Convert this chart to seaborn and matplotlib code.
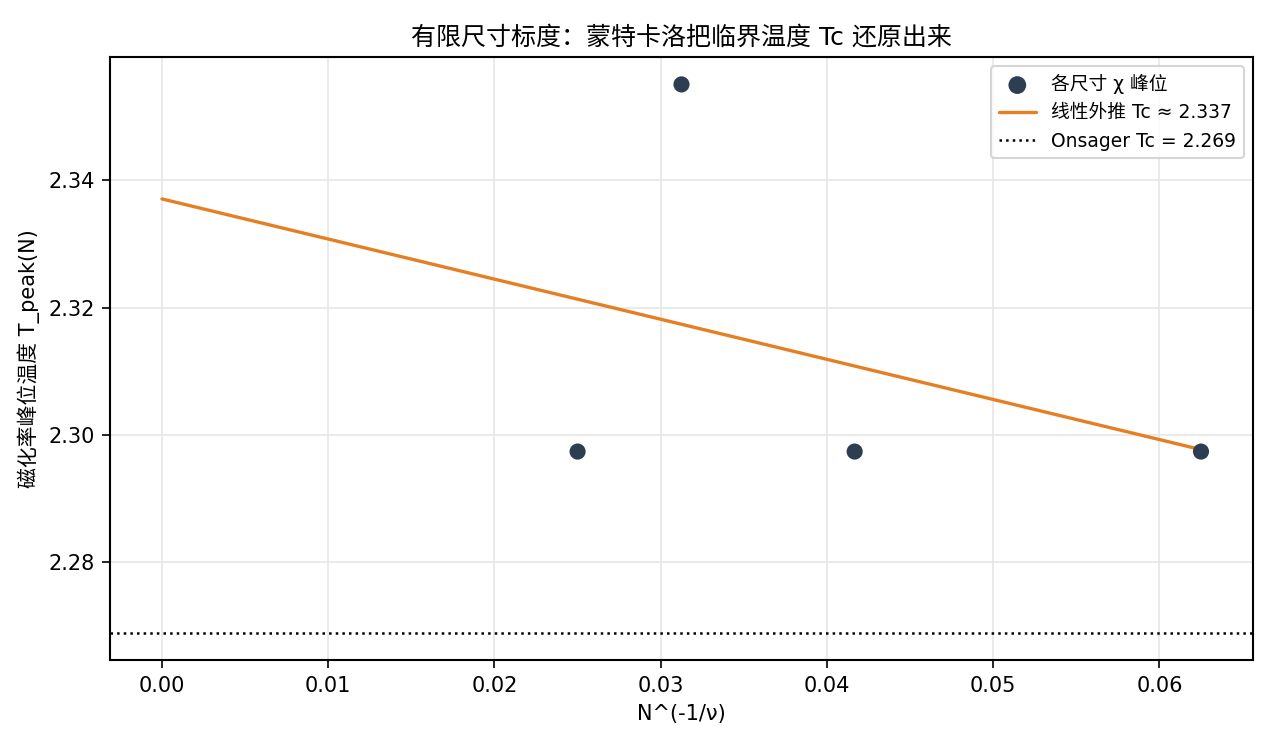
import numpy as np
import pandas as pd
import matplotlib
matplotlib.use("Agg")
import matplotlib.pyplot as plt
import seaborn as sns

# Data
sizes = [40, 32, 24, 16]
x_scaled = [0.025, 0.03125, 0.041667, 0.0625]   # N^(-1/nu)
t_peak = [2.2974, 2.3550, 2.2974, 2.2974]
onsager_tc = 2.269

sns.set_theme(style="whitegrid")
plt.rcParams['font.family'] = ['DejaVu Sans', 'Noto Sans CJK SC']
plt.rcParams['axes.unicode_minus'] = False
plt.rcParams['text.color'] = 'black'
plt.rcParams['axes.labelcolor'] = 'black'
plt.rcParams['xtick.color'] = 'black'
plt.rcParams['ytick.color'] = 'black'

df = pd.DataFrame({"x": x_scaled, "y": t_peak, "N": sizes})

slope, intercept = np.polyfit(df["x"], df["y"], 1)
fit_x = np.array([0.0, max(x_scaled)])
fit_y = intercept + slope * fit_x
fit_df = pd.DataFrame({"x": fit_x, "y": fit_y})

fig, ax = plt.subplots(figsize=(8.5, 5), dpi=150)
fig.subplots_adjust(left=0.0863, right=0.9827, top=0.924, bottom=0.12)

sns.scatterplot(data=df, x="x", y="y", ax=ax, color="#2c3e50", s=60,
                edgecolor="none", label="各尺寸 χ 峰位", zorder=3)
sns.lineplot(data=fit_df, x="x", y="y", ax=ax, color="#e67e22", linewidth=1.6,
             label=f"线性外推 Tc ≈ {intercept:.3f}")
ax.axhline(onsager_tc, color="black", linestyle=":", linewidth=1.2,
           label=f"Onsager Tc = {onsager_tc:.3f}")

ax.set_title("有限尺寸标度：蒙特卡洛把临界温度 Tc 还原出来", fontsize=12, color="black")
ax.set_xlabel("N^(-1/ν)", fontsize=10)
ax.set_ylabel("磁化率峰位温度 T_peak(N)", fontsize=10)
ax.set_xticks([0.0, 0.01, 0.02, 0.03, 0.04, 0.05, 0.06])
ax.set_yticks([2.28, 2.30, 2.32, 2.34])
ax.xaxis.set_major_formatter(matplotlib.ticker.FormatStrFormatter("%.2f"))
ax.yaxis.set_major_formatter(matplotlib.ticker.FormatStrFormatter("%.2f"))
ax.tick_params(axis="both", labelsize=10, length=4, width=0.8, color="black",
               labelcolor="black", left=True, bottom=True)

ax.grid(True, color="#e6e6e6", linewidth=0.8)
for sp in ax.spines.values():
    sp.set_color("black")
    sp.set_linewidth(1.0)

leg = ax.legend(loc="upper right", fontsize=9, frameon=True, edgecolor="#cccccc",
                markerscale=1.1)
for t in leg.get_texts():
    t.set_color("black")

fig.savefig("out.png", dpi=150)
